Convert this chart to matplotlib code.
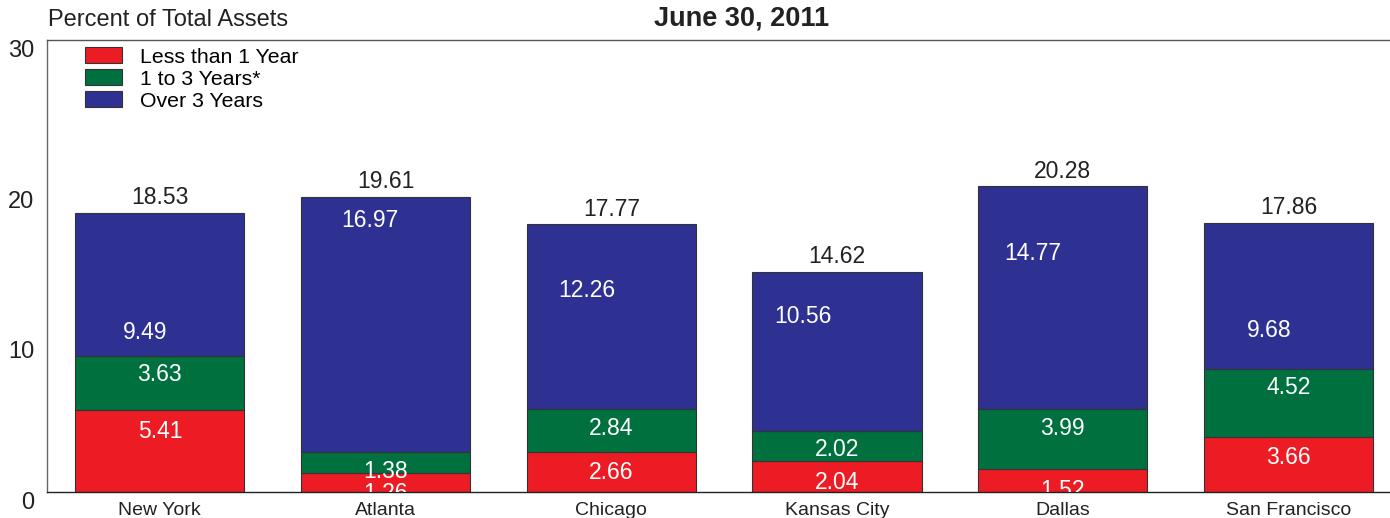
import matplotlib
matplotlib.use('Agg')
import matplotlib.pyplot as plt
import numpy as np

plt.rcParams['font.family'] = ['Liberation Sans', 'DejaVu Sans']

# data, percent of total assets, June 30, 2011
districts = ['New York', 'Atlanta', 'Chicago', 'Kansas City', 'Dallas', 'San Francisco']
less_1yr = [5.41, 1.26, 2.66, 2.04, 1.52, 3.66]
one_3yr = [3.63, 1.38, 2.84, 2.02, 3.99, 4.52]
over_3yr = [9.49, 16.97, 12.26, 10.56, 14.77, 9.68]
totals = [18.53, 19.61, 17.77, 14.62, 20.28, 17.86]

# where the blue segment labels sit (baseline)
blue_lab_y = [10.15, 17.58, 12.94, 11.21, 15.39, 10.29]
blue_lab_dx = [-0.064, -0.069, -0.11, -0.153, -0.133, -0.086]

red = '#ED1C24'
green = '#00703F'
blue = '#2E3192'

fig = plt.figure(figsize=(13.9, 5.18), dpi=100)
ax = fig.add_axes([47/1390, 26/518, 1 - 47/1390, (492-40)/518])

x = np.arange(len(districts))
w = 0.75
less = np.array(less_1yr)
mid = np.array(one_3yr)
over = np.array(over_3yr)

ax.bar(x, less, w, color=red, edgecolor='#333333', linewidth=0.8, label='Less than 1 Year')
ax.bar(x, mid, w, bottom=less, color=green, edgecolor='#333333', linewidth=0.8, label='1 to 3 Years*')
ax.bar(x, over, w, bottom=less + mid, color=blue, edgecolor='#333333', linewidth=0.8, label='Over 3 Years')

fs = 16.5
for i in range(len(x)):
    ax.text(x[i], less[i] - 1.82, f'{less_1yr[i]:.2f}', ha='center', va='baseline',
            color='white', fontsize=fs, clip_on=True)
    ax.text(x[i], less[i] + mid[i] - 1.7, f'{one_3yr[i]:.2f}', ha='center', va='baseline',
            color='white', fontsize=fs, clip_on=True)
    ax.text(x[i] + blue_lab_dx[i], blue_lab_y[i], f'{over_3yr[i]:.2f}', ha='center',
            va='baseline', color='white', fontsize=fs, clip_on=True)
    ax.text(x[i], totals[i] + 0.58, f'{totals[i]:.2f}', ha='center', va='baseline',
            color='#222222', fontsize=fs)

ax.set_xlim(-0.5, 5.45)
ax.set_ylim(0, 30)
ax.set_yticks([0, 10, 20, 30])
ax.set_xticks(x)
ax.set_xticklabels(districts, fontsize=14, color='#222222')
for t in ax.get_yticklabels():
    t.set_fontsize(17)
    t.set_color('#222222')
    t.set_va('top')
ax.tick_params(axis='both', length=0)
ax.tick_params(axis='y', pad=9)
ax.tick_params(axis='x', pad=7)

ax.spines['right'].set_visible(False)
ax.spines['left'].set_color('#666666')
ax.spines['top'].set_color('#555555')
ax.spines['bottom'].set_color('#222222')
for s in ax.spines.values():
    s.set_linewidth(1.0)

ax.legend(loc='upper left', bbox_to_anchor=(38/1343, 1 - 7/452), frameon=False, fontsize=15.3,
          handlelength=1.74, handleheight=0.8, labelspacing=0.12, handletextpad=0.85,
          borderpad=0, borderaxespad=0)

fig.text(48/1390, 1 - 20/518, 'Percent of Total Assets', fontsize=17, color='#222222',
         ha='left', va='center')
fig.text(742/1390, 1 - 18/518, 'June 30, 2011', fontsize=19.5, fontweight='bold',
         color='#222222', ha='center', va='center')

fig.savefig('out.png', dpi=100)
